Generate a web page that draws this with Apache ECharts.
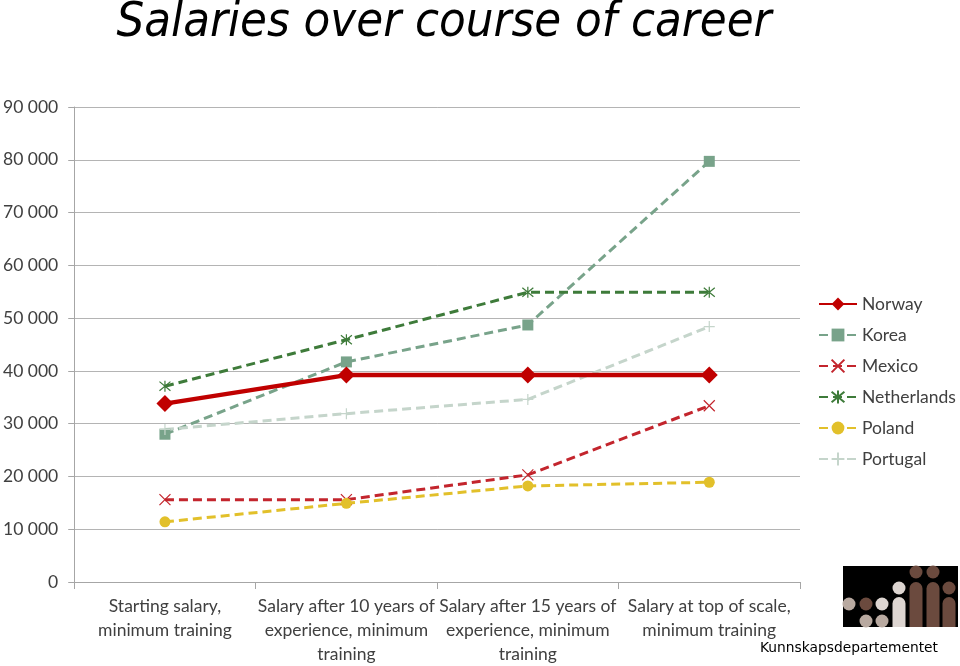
<!DOCTYPE html>
<html><head><meta charset="utf-8">
<script src="https://cdn.jsdelivr.net/npm/echarts@6/dist/echarts.min.js"></script>
<style>html,body{margin:0;padding:0;background:#fff}#c{width:960px;height:666px}</style>
</head><body><div id="c"></div>
<script>
const categories = [
  "Starting salary,\nminimum training",
  "Salary after 10 years of\nexperience, minimum\ntraining",
  "Salary after 15 years of\nexperience, minimum\ntraining",
  "Salary at top of scale,\nminimum training"
];
const norway = [33800, 39200, 39200, 39200];
const korea = [28000, 41700, 48700, 79700];
const mexico = [15600, 15600, 20300, 33400];
const netherlands = [37100, 45900, 54900, 54900];
const poland = [11400, 14900, 18200, 18900];
const portugal = [28900, 31900, 34600, 48400];
const yTicks = [0, 10000, 20000, 30000, 40000, 50000, 60000, 70000, 80000, 90000];

const FONT = 'Lato';
const xPath = 'path://M0,0L10,10M10,0L0,10';
const starPath = 'path://M0,0L10,10M10,0L0,10M5,-1L5,11';
const plusPath = 'path://M5,0L5,10M0,5L10,5';

function fmt(v){ return String(v).replace(/\B(?=(\d{3})+(?!\d))/g, ' '); }

const chart = echarts.init(document.getElementById('c'));
chart.setOption({
  animation: false,
  backgroundColor: '#fff',
  title: {
    text: 'Salaries over course of career',
    left: 439, top: -6, textAlign: 'center',
    textStyle: { fontFamily: '"DejaVu Sans Condensed", Lato', fontStyle: 'italic', fontWeight: 'normal', fontSize: 48.6, color: '#000' }
  },
  legend: {
    orient: 'vertical', left: 813, top: 290, itemGap: 13, itemWidth: 38, itemHeight: 16,
    textStyle: { fontFamily: FONT, fontSize: 17.5, color: '#404040' },
    data: ['Norway','Korea','Mexico','Netherlands','Poland','Portugal']
  },
  grid: { left: 73, right: 160, top: 107, bottom: 83, containLabel: false },
  xAxis: {
    type: 'category', data: categories, boundaryGap: true,
    axisLine: { lineStyle: { color: '#a6a6a6', width: 1 } },
    axisTick: { show: true, length: 7, alignWithLabel: false, lineStyle: { color: '#a6a6a6' } },
    axisLabel: { interval: 0, fontFamily: FONT, fontSize: 17.5, color: '#404040', lineHeight: 24, margin: 12 }
  },
  yAxis: {
    type: 'value', min: 0, max: 90000, interval: 10000,
    axisLine: { show: true, lineStyle: { color: '#a6a6a6', width: 1 } },
    axisTick: { show: true, length: 6, lineStyle: { color: '#a6a6a6' } },
    splitLine: { lineStyle: { color: '#b4b4b4', width: 1 } },
    axisLabel: { fontFamily: FONT, fontSize: 17.5, color: '#404040', margin: 16,
      formatter: v => yTicks.includes(v) ? fmt(v) : '' }
  },
  series: [
    { name: 'Norway', type: 'line', data: norway, symbol: 'diamond', symbolSize: 17,
      lineStyle: { color: '#c00000', width: 4.5 }, itemStyle: { color: '#c00000' }, z: 5 },
    { name: 'Korea', type: 'line', data: korea, symbol: 'rect', symbolSize: 11,
      lineStyle: { color: '#78a38a', width: 3, type: [9, 5] }, itemStyle: { color: '#78a38a' } },
    { name: 'Mexico', type: 'line', data: mexico, symbol: xPath, symbolSize: 11,
      lineStyle: { color: '#c3252d', width: 3, type: [9, 5] },
      itemStyle: { color: 'rgba(0,0,0,0)', borderColor: '#c3252d', borderWidth: 1.2 } },
    { name: 'Netherlands', type: 'line', data: netherlands, symbol: starPath, symbolSize: 11,
      lineStyle: { color: '#3e7b3a', width: 3, type: [9, 5] },
      itemStyle: { color: 'rgba(0,0,0,0)', borderColor: '#3e7b3a', borderWidth: 1.2 } },
    { name: 'Poland', type: 'line', data: poland, symbol: 'circle', symbolSize: 11,
      lineStyle: { color: '#e2c02a', width: 3, type: [9, 5] }, itemStyle: { color: '#e2c02a' } },
    { name: 'Portugal', type: 'line', data: portugal, symbol: plusPath, symbolSize: 11,
      lineStyle: { color: '#c5d5cb', width: 3, type: [9, 5] },
      itemStyle: { color: 'rgba(0,0,0,0)', borderColor: '#c5d5cb', borderWidth: 1.2 } }
  ],
  graphic: [
    { type: 'rect', shape: { x: 843, y: 566, width: 115, height: 61 }, style: { fill: '#000' } },
    { type: 'circle', shape: { cx: 849, cy: 604, r: 6.5 }, style: { fill: '#b8a9a0' } },
    { type: 'circle', shape: { cx: 866, cy: 604, r: 6.5 }, style: { fill: '#6b4a3e' } },
    { type: 'circle', shape: { cx: 866, cy: 621, r: 6.5 }, style: { fill: '#b8a9a0' } },
    { type: 'circle', shape: { cx: 882, cy: 604, r: 6.5 }, style: { fill: '#ddd5d1' } },
    { type: 'circle', shape: { cx: 882, cy: 621, r: 6.5 }, style: { fill: '#b8a9a0' } },
    { type: 'circle', shape: { cx: 899, cy: 588, r: 6.5 }, style: { fill: '#ddd5d1' } },
    { type: 'rect', shape: { x: 892.5, y: 597, width: 13, height: 30, r: [6.5, 6.5, 0, 0] }, style: { fill: '#ddd5d1' } },
    { type: 'circle', shape: { cx: 916, cy: 572, r: 6.5 }, style: { fill: '#6b4a3e' } },
    { type: 'rect', shape: { x: 909.5, y: 582, width: 13, height: 45, r: [6.5, 6.5, 0, 0] }, style: { fill: '#6b4a3e' } },
    { type: 'circle', shape: { cx: 933, cy: 572, r: 6.5 }, style: { fill: '#6b4a3e' } },
    { type: 'rect', shape: { x: 926.5, y: 582, width: 13, height: 45, r: [6.5, 6.5, 0, 0] }, style: { fill: '#6b4a3e' } },
    { type: 'circle', shape: { cx: 949, cy: 588, r: 6.5 }, style: { fill: '#6b4a3e' } },
    { type: 'rect', shape: { x: 942.5, y: 597, width: 13, height: 30, r: [6.5, 6.5, 0, 0] }, style: { fill: '#6b4a3e' } },
    { type: 'text', left: 760, top: 641, style: { text: 'Kunnskapsdepartementet', fontFamily: 'DejaVu Sans', fontSize: 13.8, fill: '#000' } }
  ]
});
</script></body></html>
